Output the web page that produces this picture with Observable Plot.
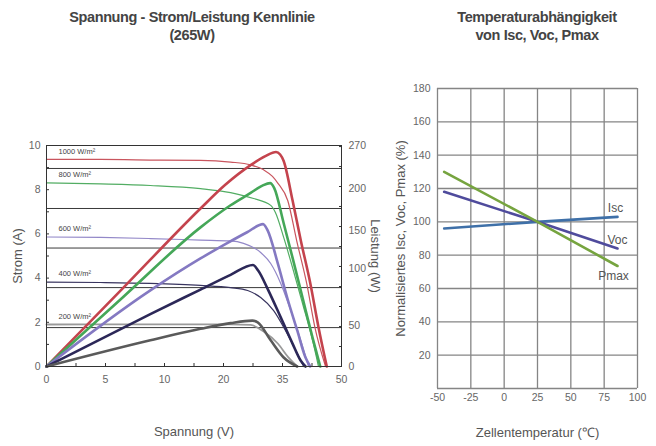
<!DOCTYPE html>
<html><head><meta charset="utf-8">
<script src="https://cdn.jsdelivr.net/npm/d3@7"></script>
<script src="https://cdn.jsdelivr.net/npm/@observablehq/plot@0.6"></script>
<style>
body{margin:0;background:#fff;}
#wrap{position:relative;width:656px;height:446px;overflow:hidden;font-family:"Liberation Sans",Arial,sans-serif;}
.title{position:absolute;font-family:"Liberation Sans",Arial,sans-serif;font-weight:bold;font-size:14.5px;letter-spacing:-0.4px;color:#444;text-align:center;line-height:17.5px;white-space:nowrap;}
#left,#right{position:absolute;top:0;}
</style></head><body>
<div id="wrap">
<div class="title" style="left:42px;width:300px;top:9px">Spannung - Strom/Leistung Kennlinie<br>(265W)</div>
<div class="title" style="left:437px;width:200px;top:9px">Temperaturabhängigkeit<br>von Isc, Voc, Pmax</div>
<div id="left" style="left:0"></div>
<div id="right" style="left:380px"></div>
</div>
<script>
// ---------- Left chart data (voltage axis positions 0..50, current in A, power in W) ----------
const irradiance = [1000, 800, 600, 400, 200];
const irrLabels = ["1000 W/m²", "800 W/m²", "600 W/m²", "400 W/m²", "200 W/m²"];
const ivColors = ["#c9555e", "#52ad63", "#9388c8", "#38345f", "#9a9a9a"];
const pColors = ["#c4434d", "#45a758", "#8479c2", "#2c2858", "#5a5a5a"];

// current–voltage curves [V, A]
const iv1000 = [[0,9.37],[9.15,9.37],[19.3,9.34],[26.1,9.33],[31.2,9.25],[34.6,9.12],[36.8,8.9],[38.3,8.6],[39.2,8.3],[40.9,7.5],[42.4,5.7],[44.1,3.76],[45.5,1.76],[47.3,0]];
const iv800 = [[0,8.31],[9.15,8.26],[17.6,8.19],[26.1,8.05],[31.2,7.87],[35.1,7.6],[38.0,7.29],[38.8,6.97],[40.2,5.84],[41.7,4.48],[43.4,2.85],[45.1,1.18],[46.1,0]];
const iv600 = [[0,5.86],[9.15,5.84],[17.6,5.79],[26.1,5.72],[31.2,5.68],[33.4,5.57],[36.3,5.16],[38.0,4.66],[39.7,3.76],[41.4,2.53],[43.1,1.18],[44.4,0]];
const iv400 = [[0,3.82],[9.15,3.8],[17.6,3.76],[26.1,3.67],[31.2,3.57],[34.1,3.44],[36.3,3.12],[38.5,2.53],[40.5,1.63],[42.5,0.59],[43.6,0]];
const iv200 = [[0,1.9],[17.6,1.91],[31.2,1.91],[34.6,1.88],[36.8,1.58],[39.2,1.04],[41.0,0.41],[42.5,0]];

// power–voltage curves [V, W]
const p1000 = [[0,0],[13,96],[26.1,193],[30.3,222],[34.6,246],[37.1,257],[38.9,262],[39.6,259],[40.2,251],[41.7,203],[43.1,154],[44.7,102],[46.1,48],[47.5,0]];
const p800 = [[0,0],[13,85],[26.1,170],[31.2,197],[34.6,212],[36.6,221],[37.9,224],[38.6,218],[40.2,175],[41.7,133],[43.4,84],[45.1,35],[46.4,0]];
const p600 = [[0,0],[17.6,93],[26.1,132],[30.7,151],[34.0,164],[36.7,174],[37.5,166],[39.2,126],[40.8,84],[42.5,44],[43.9,11],[44.7,0]];
const p400 = [[0,0],[17.6,64],[26.1,94],[31.2,112],[35.0,124],[35.9,117],[37.6,93],[39.7,60],[41.7,28],[43.1,7],[43.9,0]];
const p200 = [[0,0],[17.6,32],[26.1,46],[31.2,53],[34.9,56],[35.8,54],[38.0,32],[40.2,11],[42.5,0]];

const wattsPerAmpUnit = 27;             // secondary axis: 270 W at the top (10 A)
const hLines = [1.76, 3.57, 5.36, 7.15, 8.96]; // horizontal reference lines (A)
const ampTicks = [0, 2, 4, 6, 8, 10];
const ampMinor = [0,1,2,3,4,5,6,7,8,9,10];
const voltTickPos = [0, 10, 20, 30, 40, 50];
const voltTickLabels = ["0", "5", "10", "20", "35", "50"];
const voltMinor = [0,5,10,15,20,25,30,35,40,45,50];
const wattTickPos = [0, 50, 120, 166, 217, 270];
const wattTickLabels = ["0", "50", "100", "150", "200", "270"];
const wattMinor = [0, 24.4, 48.9, 73.3, 97.7, 122.2, 146.6, 171, 195.5, 219.9, 244.3, 268.7];

// ---------- Right chart data ----------
const temps = [-45, 25, 85];
const isc = [96, 100, 103];
const voc = [118, 100, 84];
const pmax = [130, 100, 73.5];
const tempTicks = [-50, -25, 0, 25, 50, 75, 100];
const pctTicks = [0, 20, 40, 60, 80, 100, 120, 140, 160, 180];

// ---------- Build left chart ----------
const ivSets = [iv1000, iv800, iv600, iv400, iv200];
const pSets = [p1000, p800, p600, p400, p200];
const font = "Liberation Sans, Arial, sans-serif";
const voltLabelMap = new Map(voltTickPos.map((p, i) => [p, voltTickLabels[i]]));
const wattLabelMap = new Map(wattTickPos.map((p, i) => [p / wattsPerAmpUnit, wattTickLabels[i]]));

const leftMarks = [
  Plot.ruleY(hLines, {stroke: "#3a3a3a", strokeWidth: 1}),
];
ivSets.forEach((pts, k) => {
  leftMarks.push(Plot.line(pts, {x: d => d[0], y: d => d[1], stroke: ivColors[k],
    strokeWidth: k === 4 ? 1.8 : 1.2, curve: "monotone-x"}));
});
pSets.forEach((pts, k) => {
  leftMarks.push(Plot.line(pts, {x: d => d[0], y: d => d[1] / wattsPerAmpUnit, stroke: pColors[k],
    strokeWidth: 2.6, curve: "monotone-x"}));
});
leftMarks.push(
  Plot.text(irradiance.map((irr, k) => ({label: irrLabels[k], a: ivSets[k][0][1]})),
    {frameAnchor: "left", y: "a", text: "label", dx: 12, dy: -8, textAnchor: "start",
     fontSize: 7.5, fill: "#444"}),
  Plot.frame({stroke: "#333", strokeWidth: 1}),
  Plot.axisY(ampTicks, {tickSize: 0, tickPadding: 6, label: null, fontSize: 10.5, fill: "#666"}),
  Plot.axisY(ampMinor, {tickSize: 3, dx: 3, tickFormat: () => "", label: null, stroke: "#333"}),
  Plot.axisY(wattTickPos.map(w => w / wattsPerAmpUnit), {anchor: "right", tickSize: 0, tickPadding: 7,
    tickFormat: d => wattLabelMap.get(d), label: null, fontSize: 10.5, fill: "#666"}),
  Plot.axisY(wattMinor.map(w => w / wattsPerAmpUnit), {anchor: "right", tickSize: 3, dx: -3,
    tickFormat: () => "", label: null, stroke: "#333"}),
  Plot.axisX(voltTickPos, {tickSize: 0, tickPadding: 9, tickFormat: d => voltLabelMap.get(d),
    label: null, fontSize: 10.5, fill: "#666"}),
  Plot.axisX(voltMinor, {tickSize: 3, dy: -3, tickFormat: () => "", label: null, stroke: "#333"}),
  Plot.text(["Strom (A)"], {frameAnchor: "left", dx: -29, rotate: -90, textAnchor: "middle", fontSize: 13, fill: "#555"}),
  Plot.text(["Leistung (W)"], {frameAnchor: "right", dx: 34, rotate: 90, textAnchor: "middle", fontSize: 13, fill: "#555"}),
  Plot.text(["Spannung (V)"], {frameAnchor: "bottom", dy: 69, textAnchor: "middle", fontSize: 13, fill: "#555"})
);

const L = Plot.plot({
  width: 400, height: 446,
  marginLeft: 46, marginRight: 59, marginTop: 145, marginBottom: 80,
  x: {domain: [0, 50]},
  y: {domain: [0, 10]},
  style: {fontFamily: font, background: "transparent", overflow: "visible"},
  marks: leftMarks
});
document.getElementById("left").append(L);

// ---------- Build right chart ----------
const series = [
  {name: "Isc", vals: isc, color: "#3f70a8", dx: -2, dy: -9},
  {name: "Voc", vals: voc, color: "#4f4b9c", dx: 0, dy: -8},
  {name: "Pmax", vals: pmax, color: "#76a43f", dx: -4, dy: 10}
];
const rightMarks = [
  Plot.ruleX(tempTicks, {stroke: "#858585", strokeWidth: 1.3}),
  Plot.ruleY(pctTicks, {stroke: "#858585", strokeWidth: 1.3}),
];
series.forEach(s => {
  const pts = temps.map((t, i) => ({t, v: s.vals[i]}));
  rightMarks.push(Plot.line(pts, {x: "t", y: "v", stroke: s.color, strokeWidth: 2.6}));
  rightMarks.push(Plot.text([pts[pts.length - 1]], {x: "t", y: "v", text: () => s.name,
    dx: s.dx, dy: s.dy, fontSize: 12, fill: "#555"}));
});
rightMarks.push(
  Plot.axisX(tempTicks, {tickSize: 0, tickPadding: 5, tickFormat: d => String(d), label: null, fontSize: 10.5, fill: "#666"}),
  Plot.axisY(pctTicks.filter(d => d > 0), {tickSize: 0, tickPadding: 7, tickFormat: d => String(d), label: null, fontSize: 10.5, fill: "#666"}),
  Plot.text(["Normalisiertes Isc, Voc, Pmax (%)"], {frameAnchor: "left", dx: -37, rotate: -90, textAnchor: "middle", fontSize: 13, fill: "#555"}),
  Plot.text(["Zellentemperatur (℃)"], {frameAnchor: "bottom", dy: 48, textAnchor: "middle", fontSize: 13, fill: "#555"})
);
const R = Plot.plot({
  width: 276, height: 446,
  marginLeft: 57, marginRight: 19, marginTop: 88, marginBottom: 58,
  x: {domain: [-50, 100]},
  y: {domain: [0, 180]},
  style: {fontFamily: font, background: "transparent", overflow: "visible"},
  marks: rightMarks
});
document.getElementById("right").append(R);
</script>
</body></html>
